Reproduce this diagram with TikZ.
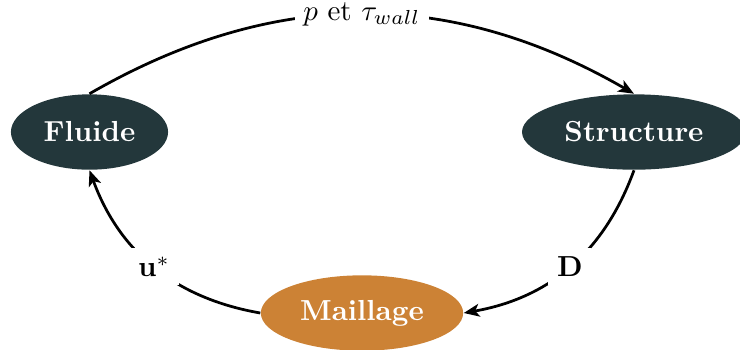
\documentclass[tikz,border=0pt]{standalone}
\usetikzlibrary{shapes.geometric,arrows.meta}
\definecolor{darkteal}{HTML}{23373B}
\definecolor{ochre}{HTML}{CC8235}
\tikzset{
  blob/.style={ellipse, minimum height=26pt, text=white, font=\bfseries},
  flow/.style={-{Stealth[length=5.4pt,width=4.4pt,inset=1.4pt]}, line width=0.95pt},
  lbl/.style={fill=white, inner sep=3pt}
}
\begin{document}
\begin{tikzpicture}[x=0.345pt, y=-0.345pt]
\useasboundingbox (0,0) rectangle (740,349);
\node[blob, fill=darkteal] (fluide) at (89.5,132) {Fluide};
\node[blob, fill=darkteal] (structure) at (634,132) {Structure};
\node[blob, fill=ochre] (maillage) at (362,313) {Maillage};
\draw[flow] (fluide.north) to[bend left=30] node[lbl] (l1) {$p$ et $\tau_{wall}$} (structure.north);
\draw[flow] (structure.south) to[bend left=30] node[lbl] (l2) {$\mathbf{D}$} (maillage.east);
\draw[flow] (maillage.west) to[bend left=30] node[lbl] (l3) {$\mathbf{u}^*$} (fluide.south);
\end{tikzpicture}
\end{document}
